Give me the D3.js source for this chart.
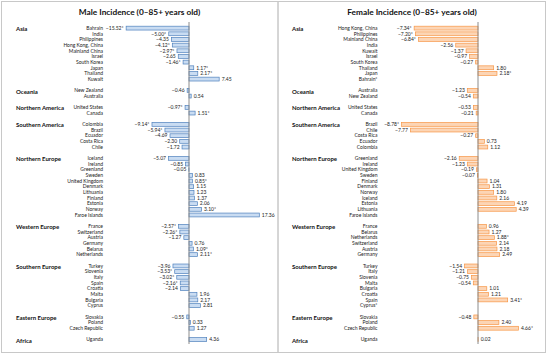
<!DOCTYPE html>
<html>
<head>
<meta charset="utf-8">
<script src="https://cdn.jsdelivr.net/npm/d3@7"></script>
<style>
  body { margin: 0; background: #fff; }
  svg { font-family: Lato, "Open Sans", sans-serif; }
</style>
</head>
<body>
<svg width="550" height="358"></svg>
<script>
var regions = ["Asia", "Oceania", "Northern America", "Southern America", "Northern Europe",
               "Western Europe", "Southern Europe", "Eastern Europe", "Africa"];
var regionSizes = [10, 2, 2, 5, 11, 6, 8, 3, 1];

var maleCountries = ["Bahrain", "India", "Philippines", "Hong Kong, China", "Mainland China", "Israel", "South Korea", "Japan", "Thailand", "Kuwait",
  "New Zealand", "Australia",
  "United States", "Canada",
  "Colombia", "Brazil", "Ecuador", "Costa Rica", "Chile",
  "Iceland", "Ireland", "Greenland", "Sweden", "United Kingdom", "Denmark", "Lithuania", "Finland", "Estonia", "Norway", "Faroe Islands",
  "France", "Switzerland", "Austria", "Germany", "Belarus", "Netherlands",
  "Turkey", "Slovenia", "Italy", "Spain", "Croatia", "Malta", "Bulgaria", "Cyprus",
  "Slovakia", "Poland", "Czech Republic",
  "Uganda"];
var maleValues = [-15.52, -5.00, -4.35, -4.12, -2.97, -2.65, -1.46, 1.17, 2.17, 7.45,
  -0.46, 0.54,
  -0.97, 1.51,
  -9.14, -5.94, -4.69, -2.30, -1.72,
  -5.07, -0.85, -0.05, 0.83, 0.85, 1.15, 1.23, 1.37, 2.06, 3.10, 17.36,
  -2.57, -2.26, -1.27, 0.76, 1.09, 2.11,
  -3.96, -3.53, -3.02, -2.16, -2.14, 1.96, 2.17, 2.81,
  -0.55, 0.33, 1.27,
  4.36];
var maleStar = [1, 1, 0, 1, 1, 0, 1, 1, 1, 0,
  0, 0,
  1, 1,
  1, 1, 0, 0, 0,
  0, 0, 0, 0, 1, 0, 0, 0, 0, 1, 0,
  1, 1, 0, 0, 1, 1,
  0, 1, 1, 1, 0, 0, 0, 0,
  0, 0, 0,
  0];

var femaleCountries = ["Hong Kong, China", "Philippines", "Mainland China", "India", "Kuwait", "Israel", "South Korea", "Thailand", "Japan", "Bahrain*",
  "Australia", "New Zealand",
  "United States", "Canada",
  "Brazil", "Chile", "Costa Rica", "Ecuador", "Colombia",
  "Greenland", "Ireland", "United Kingdom", "Sweden", "Finland", "Denmark", "Norway", "Iceland", "Estonia", "Lithuania", "Faroe Islands",
  "France", "Belarus", "Netherlands", "Switzerland", "Austria", "Germany",
  "Turkey", "Italy", "Slovenia", "Malta", "Bulgaria", "Croatia", "Spain", "Cyprus*",
  "Slovakia", "Poland", "Czech Republic",
  "Uganda"];
var femaleValues = [-7.34, -7.20, -6.84, -2.56, -1.37, -0.97, -0.27, 1.80, 2.18, null,
  -1.23, -0.54,
  -0.53, -0.21,
  -8.78, -7.77, -0.27, 0.73, 1.12,
  -2.16, -1.23, -0.19, -0.07, 1.04, 1.31, 1.80, 2.16, 4.19, 4.39, null,
  0.96, 1.27, 1.88, 2.14, 2.18, 2.49,
  -1.54, -1.21, -0.75, -0.54, 1.01, 1.21, 3.41, null,
  -0.48, 2.40, 4.66,
  0.02];
var femaleStar = [1, 1, 1, 0, 0, 0, 0, 0, 1, 0,
  0, 0,
  0, 0,
  1, 0, 0, 0, 0,
  0, 0, 0, 0, 0, 0, 0, 0, 0, 0, 0,
  0, 0, 1, 0, 0, 0,
  0, 0, 0, 0, 0, 0, 1, 0,
  0, 0, 1,
  0];

var svg = d3.select("svg");

// slot index for every country: one blank slot between regions
var slots = [], groupStart = [], s = 0;
regionSizes.forEach(function(n, g) {
  groupStart.push(s);
  for (var i = 0; i < n; i++) slots.push(s++);
  s++;
});
var nSlots = s - 1;

var yScale = d3.scaleBand()
  .domain(d3.range(nSlots))
  .range([26.2, 26.2 + nSlots * 5.63])
  .paddingInner(0.32);

var fmt = d3.format(".2f");
function label(v, star) {
  return fmt(v).replace("-", "\u2212") + (star ? "*" : "");
}

function panel(cfg) {
  var g = svg.append("g");
  g.append("rect")
    .attr("x", cfg.box[0]).attr("y", 1.5)
    .attr("width", cfg.box[1] - cfg.box[0]).attr("height", 351)
    .attr("fill", "none").attr("stroke", "#c8c8c8").attr("stroke-width", 1);

  g.append("text")
    .attr("x", cfg.titleX).attr("y", 15)
    .attr("text-anchor", "middle")
    .attr("font-size", 8.3).attr("font-weight", "bold").attr("fill", "#111")
    .text(cfg.title);

  var xScale = d3.scaleLinear().domain(cfg.domain).range(cfg.range);
  var data = cfg.countries.map(function(c, i) {
    return {country: c, value: cfg.values[i], star: cfg.star[i], slot: slots[i]};
  });

  g.selectAll("rect.bar")
    .data(data.filter(function(d) { return d.value !== null; }))
    .enter().append("rect")
    .attr("class", "bar")
    .attr("x", function(d) { return xScale(Math.min(0, d.value)); })
    .attr("y", function(d) { return yScale(d.slot); })
    .attr("width", function(d) { return Math.abs(xScale(d.value) - xScale(0)); })
    .attr("height", yScale.bandwidth())
    .attr("fill", cfg.fill).attr("stroke", cfg.stroke).attr("stroke-width", 0.7);

  g.append("line")
    .attr("x1", xScale(0)).attr("x2", xScale(0))
    .attr("y1", 22).attr("y2", 344)
    .attr("stroke", "#8c8c8c").attr("stroke-width", 1);

  g.selectAll("text.val")
    .data(data.filter(function(d) { return d.value !== null; }))
    .enter().append("text")
    .attr("class", "val")
    .attr("x", function(d) { return d.value < 0 ? xScale(d.value) - 2.5 : xScale(d.value) + 2.5; })
    .attr("y", function(d) { return yScale(d.slot) + yScale.bandwidth() / 2; })
    .attr("dy", "0.35em")
    .attr("text-anchor", function(d) { return d.value < 0 ? "end" : "start"; })
    .attr("font-size", 5).attr("fill", "#222")
    .text(function(d) { return label(d.value, d.star); });

  g.selectAll("text.country")
    .data(data)
    .enter().append("text")
    .attr("class", "country")
    .attr("x", cfg.countryX)
    .attr("y", function(d) { return yScale(d.slot) + yScale.bandwidth() / 2; })
    .attr("dy", "0.35em")
    .attr("text-anchor", "end")
    .attr("font-size", 5).attr("fill", "#222")
    .text(function(d) { return d.country; });

  g.selectAll("text.region")
    .data(regions)
    .enter().append("text")
    .attr("class", "region")
    .attr("x", cfg.regionX)
    .attr("y", function(d, i) { return yScale(groupStart[i]) + yScale.bandwidth() / 2 + 1; })
    .attr("dy", "0.35em")
    .attr("font-size", 6).attr("font-weight", "bold").attr("fill", "#111")
    .text(function(d) { return d; });
}

panel({
  title: "Male Incidence (0\u201385+ years old)",
  titleX: 139.5, box: [1.5, 278],
  domain: [-16, 18], range: [124.2, 261.9],
  countries: maleCountries, values: maleValues, star: maleStar,
  countryX: 103, regionX: 16,
  fill: "#c9dcf2", stroke: "#4f81bd"
});
panel({
  title: "Female Incidence (0\u201385+ years old)",
  titleX: 412, box: [278, 545.5],
  domain: [-9, 5], range: [399.7, 521.5],
  countries: femaleCountries, values: femaleValues, star: femaleStar,
  countryX: 377.5, regionX: 292,
  fill: "#fcd5b5", stroke: "#f79646"
});
</script>
</body>
</html>
